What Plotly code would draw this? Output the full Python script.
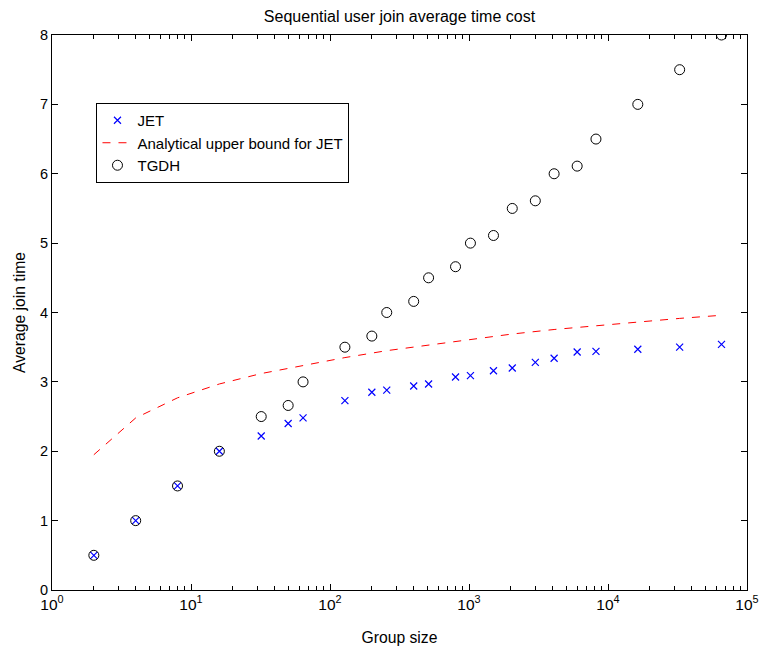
import plotly.graph_objects as go

# Group sizes
jet_x = [2, 4, 8, 16, 32, 50, 64, 128, 200, 256, 400, 512, 800, 1024, 1500,
         2048, 3000, 4096, 6000, 8192, 16384, 32768, 65536]
jet_y = [0.5, 1.0, 1.5, 2.0, 2.22, 2.40, 2.48, 2.73, 2.85, 2.88, 2.94, 2.97,
         3.07, 3.09, 3.16, 3.20, 3.28, 3.34, 3.43, 3.44, 3.47, 3.50, 3.54]

tgdh_x = jet_x
tgdh_y = [0.5, 1.0, 1.5, 2.0, 2.5, 2.66, 3.0, 3.5, 3.66, 4.0, 4.16, 4.5,
          4.66, 5.0, 5.11, 5.5, 5.61, 6.0, 6.11, 6.5, 7.0, 7.5, 8.0]

bound_x = [2, 4, 8, 16, 32, 64, 128, 256, 512, 1024, 2048, 4096, 8192,
           16384, 32768, 65536]
bound_y = [1.95, 2.48, 2.77, 2.97, 3.12, 3.24, 3.35, 3.45, 3.53, 3.61, 3.69,
           3.755, 3.81, 3.865, 3.915, 3.96]

major_vals = [1, 10, 100, 1000, 10000, 100000]
major_text = ["10<sup>0</sup>", "10<sup>1</sup>", "10<sup>2</sup>",
              "10<sup>3</sup>", "10<sup>4</sup>", "10<sup>5</sup>"]
minor_vals = [m * d for d in [1, 10, 100, 1000, 10000] for m in range(2, 10)]

FONT = "Liberation Sans, Arial, sans-serif"

fig = go.Figure()
fig.add_trace(go.Scatter(
    x=jet_x, y=jet_y, mode="markers", name="JET",
    marker=dict(symbol="x-thin-open", size=7, color="#0000ff",
                line=dict(width=1.2, color="#0000ff")),
))
fig.add_trace(go.Scatter(
    x=bound_x, y=bound_y, mode="lines", name="Analytical upper bound for JET",
    line=dict(color="#ff0000", width=1, dash="8px,8px"),
))
fig.add_trace(go.Scatter(
    x=tgdh_x, y=tgdh_y, mode="markers", name="TGDH",
    marker=dict(symbol="circle-open", size=10, color="#000000",
                line=dict(width=1, color="#000000")),
))

fig.update_layout(
    width=771, height=658,
    margin=dict(l=52, r=16, t=35, b=68),
    paper_bgcolor="white", plot_bgcolor="white",
    font=dict(family=FONT, size=14, color="black"),
    title=dict(text="Sequential user join average time cost",
               x=0.5, xanchor="center", y=1 - 16 / 658, yanchor="middle",
               xref="paper",
               font=dict(size=16, family=FONT, color="black")),
    showlegend=True,
    legend=dict(x=0.064, y=0.8775, xanchor="left", yanchor="top",
                bgcolor="white", bordercolor="black", borderwidth=1,
                font=dict(size=15, family=FONT), tracegroupgap=0),
)

fig.update_xaxes(
    type="log", range=[0, 5],
    tickmode="array", tickvals=major_vals, ticktext=major_text,
    ticks="inside", ticklen=6, tickcolor="black", tickwidth=1,
    showline=True, linecolor="black", linewidth=1, mirror="allticks",
    showgrid=False, zeroline=False,
    tickfont=dict(size=15.5, family=FONT),
    minor=dict(tickmode="array", tickvals=minor_vals, ticks="inside",
               ticklen=4, tickcolor="black", showgrid=False),
    title=dict(text="Group size", font=dict(size=15.7, family=FONT), standoff=20),
)
fig.update_yaxes(
    range=[0, 8], tickmode="linear", tick0=0, dtick=1,
    ticks="inside", ticklen=6, tickcolor="black", tickwidth=1,
    showline=True, linecolor="black", linewidth=1, mirror="allticks",
    showgrid=False, zeroline=False,
    tickfont=dict(size=14.5, family=FONT),
    title=dict(text="Average join time", font=dict(size=15.7, family=FONT), standoff=10),
)

fig.write_html("out.html")
